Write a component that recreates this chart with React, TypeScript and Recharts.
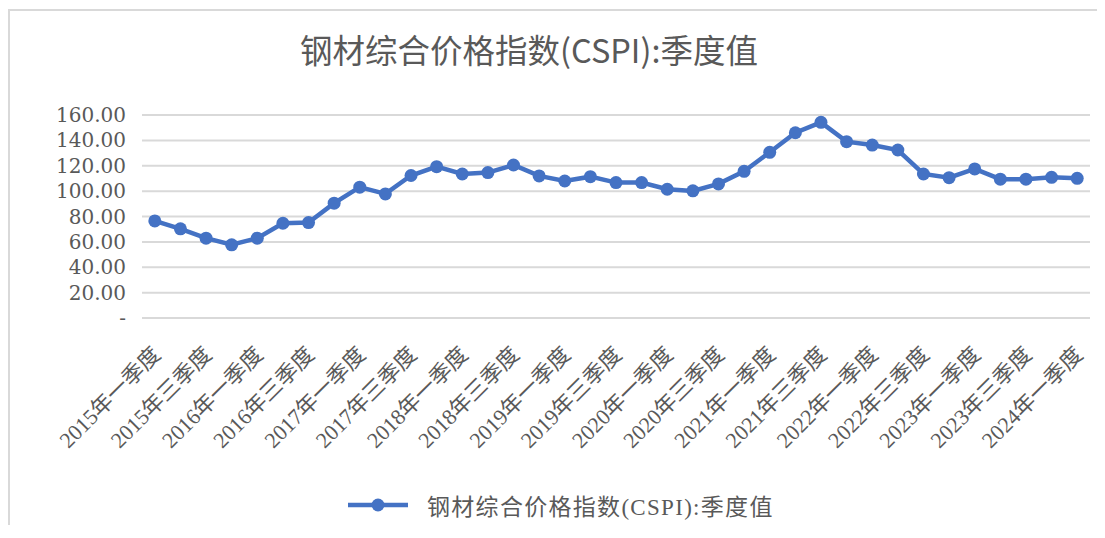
import React from "react";
import { LineChart, Line, XAxis, YAxis, CartesianGrid } from "recharts";

const quarters: string[] = [
  "2015年一季度", "2015年二季度", "2015年三季度", "2015年四季度",
  "2016年一季度", "2016年二季度", "2016年三季度", "2016年四季度",
  "2017年一季度", "2017年二季度", "2017年三季度", "2017年四季度",
  "2018年一季度", "2018年二季度", "2018年三季度", "2018年四季度",
  "2019年一季度", "2019年二季度", "2019年三季度", "2019年四季度",
  "2020年一季度", "2020年二季度", "2020年三季度", "2020年四季度",
  "2021年一季度", "2021年二季度", "2021年三季度", "2021年四季度",
  "2022年一季度", "2022年二季度", "2022年三季度", "2022年四季度",
  "2023年一季度", "2023年二季度", "2023年三季度", "2023年四季度",
  "2024年一季度",
];

const cspi: number[] = [
  76.5, 70.3, 62.9, 57.7, 62.9, 74.7, 75.2, 90.5, 103.1, 97.8, 112.3, 119.3,
  113.5, 114.6, 120.6, 112.0, 108.0, 111.4, 106.7, 106.7, 101.5, 100.2, 105.7,
  115.6, 130.6, 146.0, 154.2, 139.0, 136.3, 132.4, 113.5, 110.6, 117.5, 109.4,
  109.4, 110.9, 110.1,
];

const yTicks: number[] = [0, 20, 40, 60, 80, 100, 120, 140, 160];

const titleText = "钢材综合价格指数(CSPI):季度值";
const seriesName = "钢材综合价格指数(CSPI):季度值";

const data = quarters.map((q, i) => ({ q, v: cspi[i] }));

const BLUE = "#4472C4";
const TEXT = "#595959";
const SERIF = "'Liberation Serif', 'DejaVu Serif', 'Noto Sans CJK SC', serif";

const XTick = (props: any) => {
  const { x, y, payload } = props;
  const tx = x + 7;
  const ty = y + 30;
  return (
    <text
      x={tx}
      y={ty}
      transform={`rotate(-45 ${tx} ${ty})`}
      textAnchor="end"
      fill={TEXT}
      fontSize={22}
      fontFamily={SERIF}
    >
      {payload.value}
    </text>
  );
};

export default function App() {
  return (
    <div
      style={{
        position: "relative",
        top: 1,
        borderTop: "2px solid #d9d9d9",
        borderLeft: "2px solid #d9d9d9",
        width: 1093,
        height: 515,
        background: "#fff",
      }}
    >
      <div
        style={{
          position: "absolute",
          left: 519,
          top: 19,
          transform: "translateX(-50%)",
          whiteSpace: "nowrap",
          fontFamily: "'Noto Sans CJK SC', 'Noto Sans', sans-serif",
          fontSize: 32.5,
          lineHeight: "38px",
          color: TEXT,
        }}
      >
        {titleText}
      </div>
      <LineChart
        width={1093}
        height={515}
        data={data}
        margin={{ top: 104, right: 13, left: 52, bottom: 88 }}
      >
        <CartesianGrid vertical={false} stroke="#d9d9d9" strokeWidth={2} />
        <XAxis
          dataKey="q"
          interval={1}
          axisLine={false}
          tickLine={false}
          padding={{ left: 12.8, right: 12.8 }}
          height={120}
          tick={<XTick />}
        />
        <YAxis
          width={80}
          domain={[0, 160]}
          ticks={yTicks}
          interval={0}
          axisLine={false}
          tickLine={false}
          tickMargin={10}
          tick={{ fill: TEXT, fontSize: 20, fontFamily: "'DejaVu Serif', serif" }}
          tickFormatter={(v: number) => (v === 0 ? "-" : v.toFixed(2))}
        />
        <Line
          type="linear"
          dataKey="v"
          name={seriesName}
          stroke={BLUE}
          strokeWidth={4.5}
          dot={{ r: 6.5, fill: BLUE, stroke: BLUE, strokeWidth: 0 }}
          isAnimationActive={false}
        />
      </LineChart>
      <div
        style={{
          position: "absolute",
          left: 338,
          top: 480,
          height: 28,
          display: "flex",
          alignItems: "center",
          whiteSpace: "nowrap",
        }}
      >
        <svg width={60} height={20}>
          <line x1={0} y1={10} x2={60} y2={10} stroke={BLUE} strokeWidth={4.5} />
          <circle cx={30} cy={10} r={6.5} fill={BLUE} />
        </svg>
        <span
          style={{
            marginLeft: 19,
            fontFamily: SERIF,
            fontSize: 23,
            letterSpacing: 1.3,
            color: TEXT,
          }}
        >
          {seriesName}
        </span>
      </div>
    </div>
  );
}
